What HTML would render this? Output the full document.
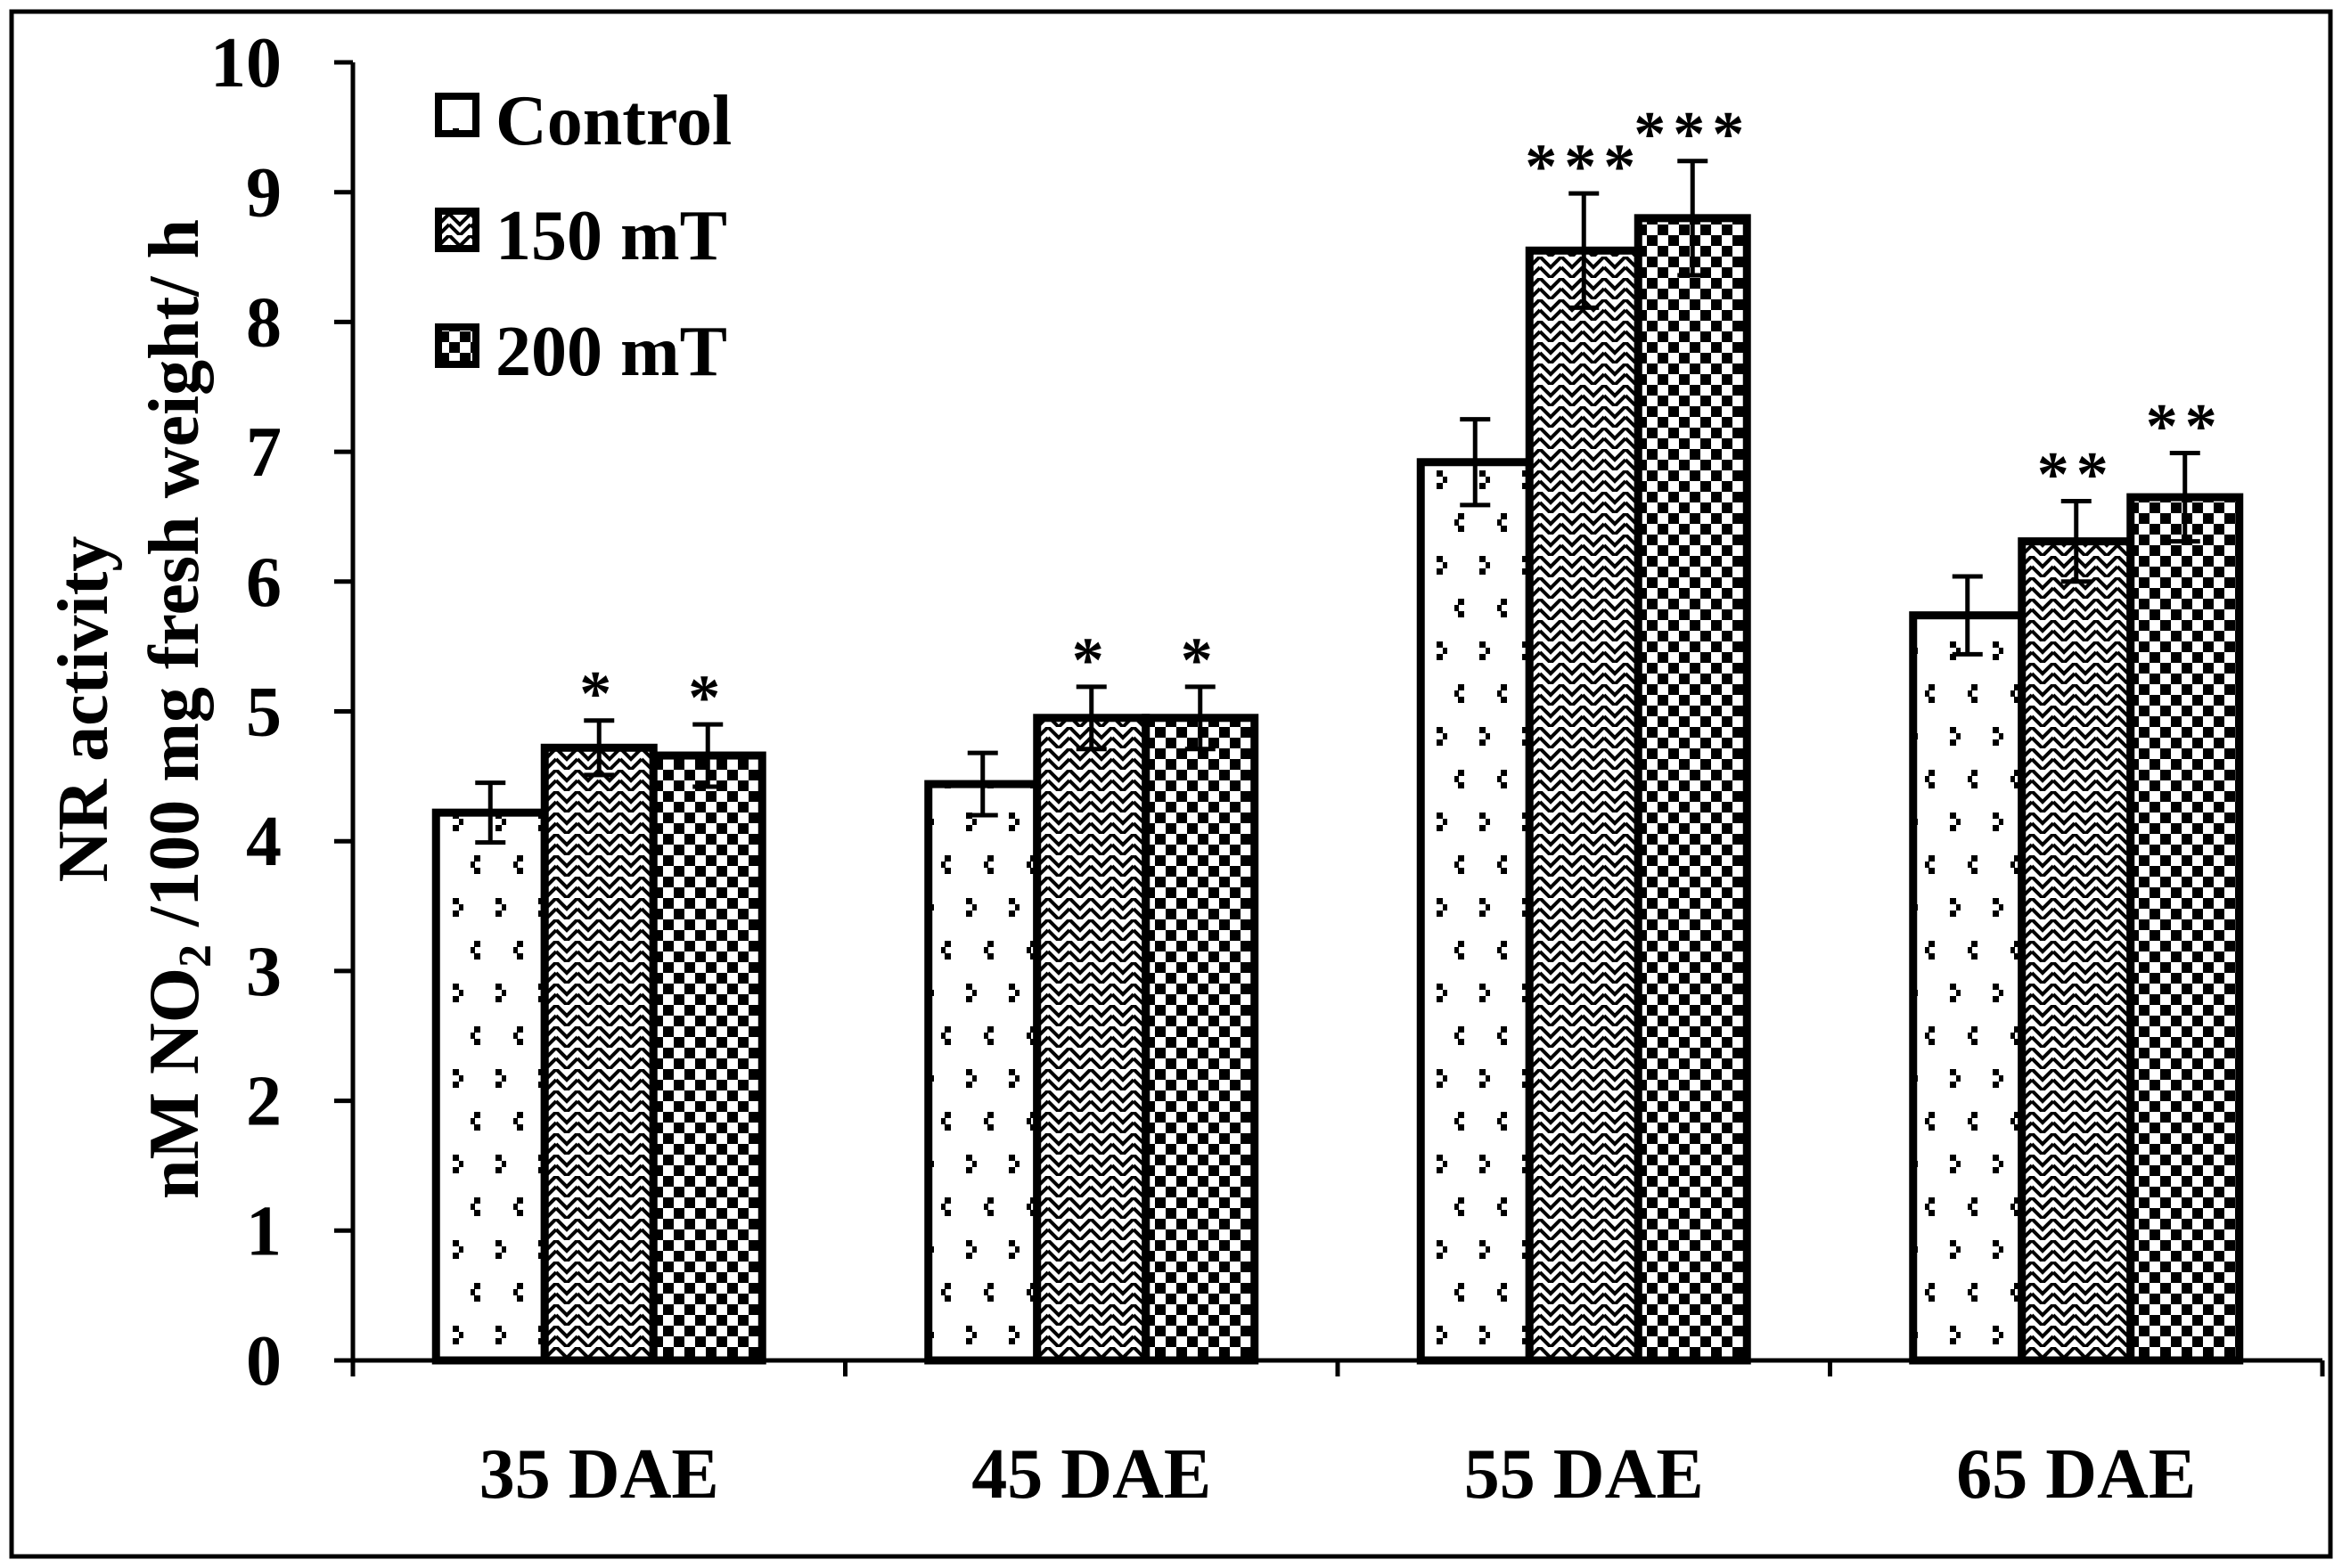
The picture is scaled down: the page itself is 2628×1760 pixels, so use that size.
<!DOCTYPE html>
<html><head><meta charset="utf-8"><style>
html,body{margin:0;padding:0;background:#fff;}
svg{display:block;}
text{font-family:"Liberation Serif",serif;font-weight:bold;fill:#000;}
</style></head><body>
<svg id="chart" width="2628" height="1760" viewBox="0 0 2628 1760">
<defs>
<pattern id="pCtrl" width="48" height="96" patternUnits="userSpaceOnUse">
<rect width="48" height="96" fill="#fff"/>
<rect x="4" y="0" width="7" height="7" fill="#000"/><rect x="0" y="7" width="5" height="7" fill="#000"/><rect x="4" y="14" width="7" height="7" fill="#000"/>
<rect x="28" y="48" width="7" height="7" fill="#000"/><rect x="35" y="55" width="5" height="7" fill="#000"/><rect x="28" y="62" width="7" height="7" fill="#000"/>
</pattern>
<pattern id="pZig" width="24" height="24" patternUnits="userSpaceOnUse">
<rect width="24" height="24" fill="#fff"/>
<path d="M0 0 L12 12 L24 0 M0 12 L12 24 L24 12" stroke="#000" stroke-width="4" fill="none"/>
</pattern>
<pattern id="pChk" width="24" height="24" patternUnits="userSpaceOnUse">
<rect width="24" height="24" fill="#fff"/>
<rect x="0" y="0" width="12" height="12" fill="#000"/><rect x="12" y="12" width="12" height="12" fill="#000"/>
</pattern>
</defs>
<rect x="13" y="13" width="2602" height="1734" fill="none" stroke="#000" stroke-width="5"/>
<g id="plot"></g>
</svg>
<script>
const categories = ["35 DAE","45 DAE","55 DAE","65 DAE"];
const seriesNames = ["Control","150 mT","200 mT"];
const controlVals = [4.22,4.44,6.92,5.74];
const mt150Vals = [4.72,4.95,8.55,6.31];
const mt200Vals = [4.66,4.95,8.80,6.65];
const controlErr = [0.23,0.24,0.33,0.30];
const mt150Err = [0.21,0.24,0.44,0.31];
const mt200Err = [0.24,0.24,0.44,0.34];
const mt150Sig = ["*","*","***","**"];
const mt200Sig = ["*","*","***","**"];
const yTicks = [0,1,2,3,4,5,6,7,8,9,10];

const NS="http://www.w3.org/2000/svg";
const g=document.getElementById('plot');
const X0=396,X1=2606,Y0=1527,Y10=70;
const y=v=>Y0-(v/10)*(Y0-Y10);
const catW=(X1-X0)/categories.length;
const barW=122;
const xBar=(c,s)=>X0+catW*(c+0.5)+(s-1.5)*barW;
function mk(tag,attrs){const e=document.createElementNS(NS,tag);for(const k in attrs)e.setAttribute(k,attrs[k]);g.appendChild(e);return e;}

const vals=[controlVals,mt150Vals,mt200Vals];
const errs=[controlErr,mt150Err,mt200Err];
const sigs=[null,mt150Sig,mt200Sig];
const fills=["url(#pCtrl)","url(#pZig)","url(#pChk)"];
for(let c=0;c<categories.length;c++){
 for(let s=0;s<3;s++){
  const v=vals[s][c],x=xBar(c,s);
  const r=mk('rect',{x:x,y:y(v),width:barW,height:Y0-y(v),fill:fills[s],stroke:'#000','stroke-width':9});
  
  
  const cx=x+barW/2,e=errs[s][c];
  const eb=mk('path',{d:`M${cx} ${y(v+e)} V${y(v-e)} M${cx-17} ${y(v+e)} H${cx+17} M${cx-17} ${y(v-e)} H${cx+17}`,stroke:'#000','stroke-width':5,fill:'none'});
  
  
  if(sigs[s]){
   const t=mk('text',{x:cx,y:y(v+e)-6,'text-anchor':'middle','font-size':72,'letter-spacing':8});
   t.textContent=sigs[s][c];
   
   
  }
 }
 const lab=mk('text',{x:X0+catW*(c+0.5),y:1681,'text-anchor':'middle','font-size':80});
 lab.textContent=categories[c];
 
 
}
// axes
const ax=mk('path',{d:`M${X0} ${Y10} V${Y0} H${X1}`,stroke:'#000','stroke-width':5,fill:'none'});


for(const t of yTicks){
 mk('path',{d:`M${X0-21} ${y(t)} H${X0}`,stroke:'#000','stroke-width':5});
 const tl=mk('text',{x:316,y:y(t)+27,'text-anchor':'end','font-size':80});
 tl.textContent=t;
 
 
}
for(let c=0;c<=categories.length;c++){
 mk('path',{d:`M${X0+catW*c} ${Y0} V${Y0+18}`,stroke:'#000','stroke-width':5});
}
// y title
const yt=mk('text',{transform:'translate(120,796) rotate(-90)','text-anchor':'middle','font-size':80});
yt.textContent='NR activity';


const yt2=mk('text',{transform:'translate(222,796) rotate(-90)','text-anchor':'middle','font-size':80});
yt2.innerHTML='nM NO<tspan font-size="52" dy="14">2</tspan><tspan dy="-14"> /100 mg fresh weight/ h</tspan>';


// legend
const legY=[104,233,363];
for(let s=0;s<3;s++){
 const b=mk('rect',{x:492,y:legY[s]+4,width:42,height:42,fill:fills[s],stroke:'#000','stroke-width':8});
 
 
 const t=mk('text',{x:556,y:legY[s]+58,'font-size':80});
 t.textContent=seriesNames[s];
 
 
}
</script>
</body></html>
